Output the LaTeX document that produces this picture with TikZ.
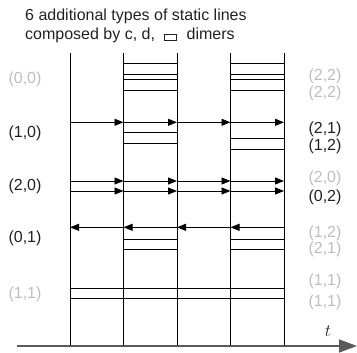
\documentclass[tikz,border=0pt]{standalone}
\usepackage{fontspec}
\setmainfont{Liberation Sans}
\usetikzlibrary{arrows.meta}
\definecolor{darklbl}{HTML}{222222}
\definecolor{faintlbl}{HTML}{BDBDBD}
\definecolor{axisgray}{HTML}{5A5A5A}

\begin{document}
\begin{tikzpicture}[x=1pt, y=-1pt,
    lbl/.style={font=\fontsize{16}{18}\selectfont, text=darklbl, inner sep=0pt},
    faint/.style={lbl, text=faintlbl},
    flow/.style={-{Triangle[length=9pt,width=7pt]}, line width=0.8pt},
    dimer/.style={draw, line width=0.8pt}]
    \useasboundingbox (0,0) rectangle (357,353);

    % Title
    \node[lbl, anchor=base west] (title1) at (25,21) {6 additional types of static lines};
    \node[lbl, anchor=base west] (title2) at (25,40) {composed by c, d,\hspace{9pt}{\setlength\fboxsep{0pt}\setlength\fboxrule{0.8pt}\fbox{\rule{0pt}{5pt}\hspace{11pt}}}\hspace{10pt}dimers};

    % World lines
    \foreach \i/\x in {0/70, 1/123.5, 2/177, 3/230.5, 4/284} {
        \coordinate (top\i) at (\x,53);
        \coordinate (bot\i) at (\x,346);
        \draw[line width=0.8pt] (top\i) -- (bot\i);
        % rows of moving dimers
        \foreach \r/\y in {a/122.3, b/181, c/191, d/227.3}
            \coordinate (\r\i) at (\x,\y);
    }

    % Time axis
    \coordinate (tstart) at (17,346);
    \coordinate (tend) at (357,346);
    \draw[axisgray, line width=1.4pt, -{Triangle[length=18pt,width=13pt]}] (tstart) -- (tend);
    \node[lbl, font=\fontsize{18}{20}\selectfont] (tlabel) at (328,331) {$t$};

    % Arrows
    \foreach \i [evaluate=\i as \j using int(\i+1)] in {0,...,3} {
        \draw[flow] (a\i) -- (a\j);
        \draw[flow] (b\i) -- (b\j);
        \draw[flow] (c\i) -- (c\j);
        \draw[flow] (d\j) -- (d\i);
        % (1,1) band
        \draw[dimer] (top\i |- 0,288.3) rectangle (top\j |- 0,298.3);
    }

    % Static dimers
    \foreach \i/\j in {1/2, 3/4} {
        \draw[dimer] (top\i |- 0,63.3) rectangle (top\j |- 0,74);
        \draw[dimer] (top\i |- 0,79.3) rectangle (top\j |- 0,90);
        \draw[dimer] (top\i |- 0,239) rectangle (top\j |- 0,249.3);
    }
    \draw[dimer] (top1 |- 0,132.7) rectangle (top2 |- 0,143.3);
    \draw[dimer] (top3 |- 0,138.3) rectangle (top4 |- 0,149);

    % Left labels
    \node[faint] (l00) at (25,79) {(0,0)};
    \node[lbl] (l10) at (25,133.3) {(1,0)};
    \node[lbl] (l20) at (25,186.7) {(2,0)};
    \node[lbl] (l01) at (25,238.8) {(0,1)};
    \node[faint] (l11) at (25,294.5) {(1,1)};

    % Right labels
    \node[faint] (r22a) at (325,76.5) {(2,2)};
    \node[faint] (r22b) at (325,93) {(2,2)};
    \node[lbl] (r21) at (325,129) {(2,1)};
    \node[lbl] (r12) at (325,146) {(1,2)};
    \node[faint] (r20) at (325,178.3) {(2,0)};
    \node[lbl] (r02) at (325,197.7) {(0,2)};
    \node[faint] (r12b) at (325,233.3) {(1,2)};
    \node[faint] (r21b) at (325,249.3) {(2,1)};
    \node[faint] (r11a) at (325,281.7) {(1,1)};
    \node[faint] (r11b) at (325,302.7) {(1,1)};
\end{tikzpicture}
\end{document}
